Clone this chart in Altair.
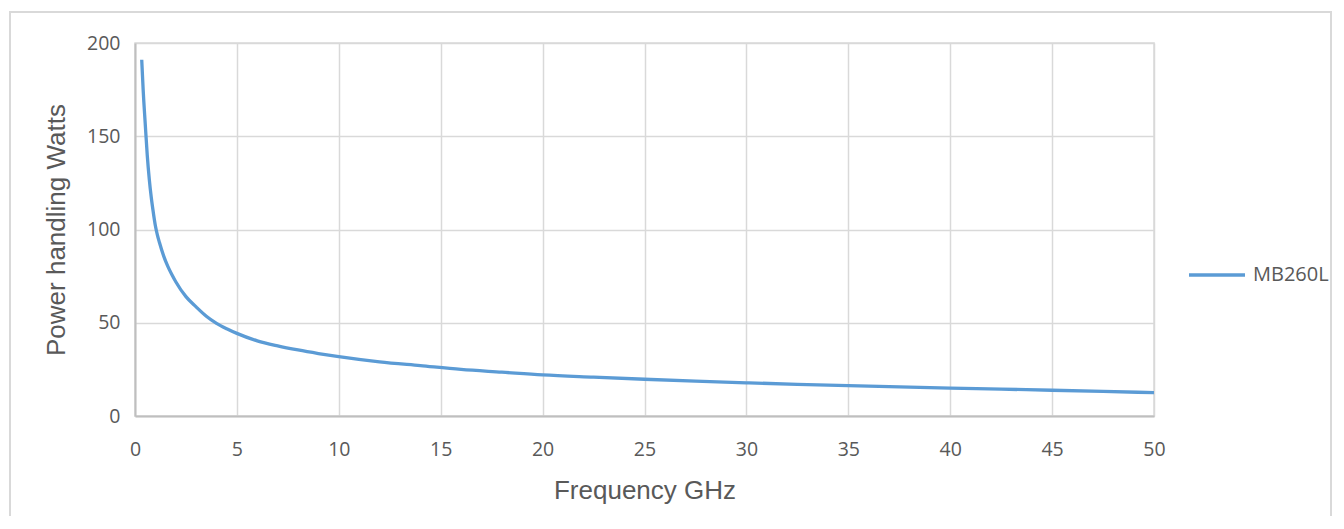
import altair as alt
import pandas as pd

freq = [0.33, 0.4, 0.5, 0.6, 0.7, 0.8, 0.9, 1.0, 1.1, 1.2, 1.4, 1.6, 1.8, 2.0, 2.5, 3, 3.5, 4, 4.5, 5,
        6, 7, 8, 9, 10, 12, 14, 16, 18, 20, 22.5, 25, 27.5, 30, 32.5, 35, 37.5, 40, 42.5, 45, 47.5, 50]
power = [191, 175, 157, 140, 127, 117, 109, 102, 97, 93, 86, 80.5, 76, 72, 64, 58.5, 53.5, 49.7, 46.8, 44.3,
         40.3, 37.6, 35.4, 33.5, 31.8, 29, 27, 25, 23.5, 22, 20.8, 19.7, 18.7, 17.8, 17, 16.3, 15.6,
         15, 14.4, 13.8, 13.2, 12.5]
series = ["MB260L"] * len(freq)

df = pd.DataFrame({"f": freq, "p": power, "s": series})

W, H = 1019, 373

border = alt.Chart(pd.DataFrame({"d": [0]})).mark_rect(
    fill=None, stroke="#d9d9d9", strokeWidth=2, clip=False
).encode(
    x=alt.value(-125), x2=alt.value(1196), y=alt.value(-31), y2=alt.value(500)
)

line = alt.Chart(df).mark_line(strokeWidth=3.3, interpolate="monotone").encode(
    x=alt.X("f:Q", scale=alt.Scale(domain=[0, 50], nice=False),
            axis=alt.Axis(title="Frequency GHz", values=list(range(0, 51, 5)), grid=True,
                          ticks=False, labelFlush=False, labelPadding=24, titlePadding=19)),
    y=alt.Y("p:Q", scale=alt.Scale(domain=[0, 200], nice=False),
            axis=alt.Axis(title="Power handling Watts", values=[0, 50, 100, 150, 200], grid=True,
                          ticks=False, labelFlush=False, labelPadding=15, titlePadding=17)),
    color=alt.Color("s:N", scale=alt.Scale(range=["#5b9bd5"]),
                    legend=alt.Legend(title=None, orient="none", legendX=1052, legendY=202,
                                      symbolType="stroke", symbolStrokeWidth=3.3, symbolSize=3136,
                                      labelFontSize=20, labelColor="#595959", labelFont="Open Sans",
                                      labelOffset=6)),
)

chart = alt.layer(border, line).properties(
    width=W, height=H,
    padding={"left": 127, "top": 35, "right": 180, "bottom": 100},
    autosize=alt.AutoSizeParams(type="none"),
).configure_view(
    stroke="#d9d9d9", strokeWidth=1.5
).configure_axis(
    gridColor="#d9d9d9", gridWidth=1.5, domainColor="#bfbfbf", domainWidth=2,
    labelFont="Open Sans", labelFontSize=19.5, labelColor="#595959",
    titleFont="Liberation Sans", titleFontSize=26, titleFontWeight="normal", titleColor="#595959",
)

chart.save("out.html", embed_options={"renderer": "svg", "actions": False})
